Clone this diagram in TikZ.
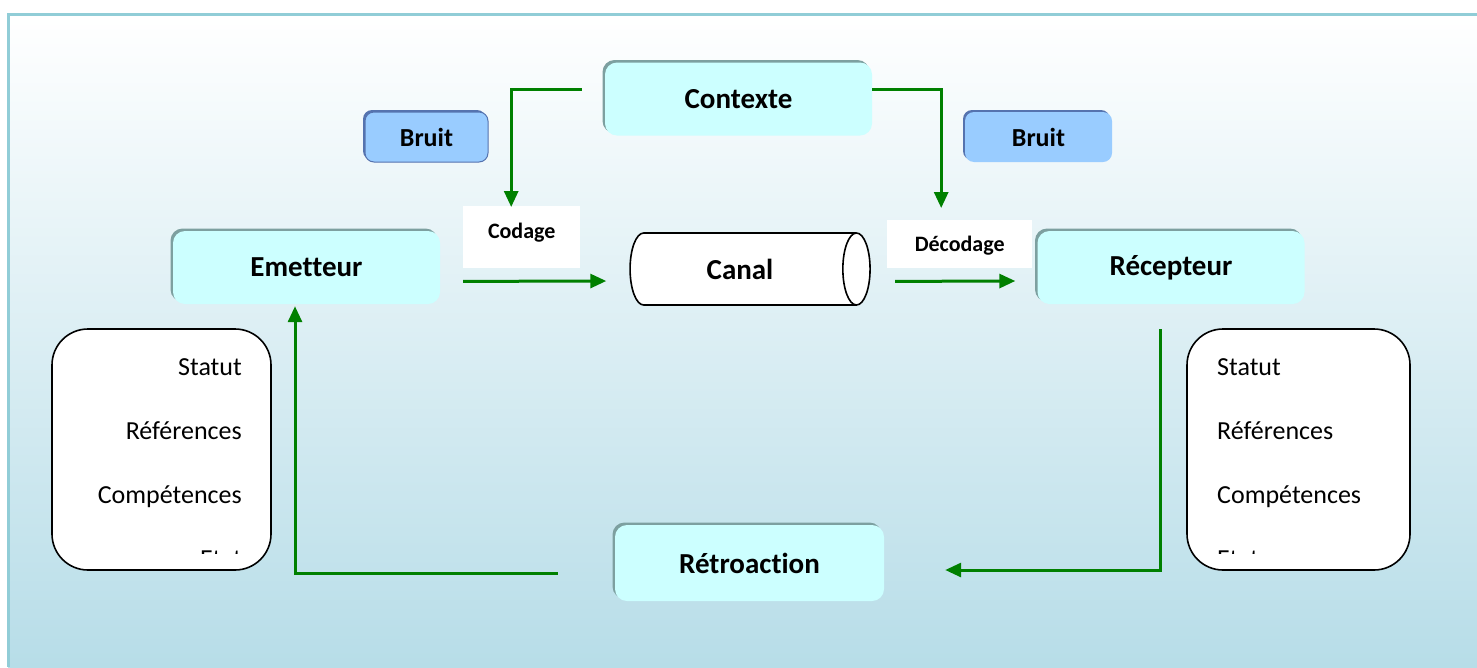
\documentclass[tikz,border=0pt]{standalone}
\usepackage{fontspec}
\setmainfont{Carlito}[Ligatures={NoCommon}]
\usetikzlibrary{arrows.meta,shapes.geometric}

\definecolor{boxcyan}{RGB}{204,255,255}
\definecolor{boxedge}{RGB}{125,160,160}
\definecolor{bruitblue}{RGB}{153,204,255}
\definecolor{bruitedge}{RGB}{85,115,175}
\definecolor{flowgreen}{RGB}{0,128,0}
\definecolor{framecol}{RGB}{145,205,215}
\definecolor{bgblue}{RGB}{183,221,232}

\tikzset{
  mainbox/.style={rounded corners=12pt, fill=boxcyan, minimum width=267pt, minimum height=73pt,
    font=\fontsize{29}{34}\selectfont\bfseries,
    preaction={fill=boxedge, transform canvas={xshift=-2.5pt,yshift=2.5pt}}},
  bruitbox/.style={rounded corners=9pt, fill=bruitblue, minimum height=50pt,
    font=\fontsize{26}{30}\selectfont\bfseries,
    preaction={fill=bruitedge, transform canvas={xshift=-2pt,yshift=2pt}}},
  codebox/.style={fill=white, inner sep=0pt, font=\fontsize{22}{26}\selectfont\bfseries},
  listbox/.style={draw, line width=1.6pt, fill=white, rounded corners=36pt},
  listtext/.style={font=\fontsize{26}{30}\selectfont, inner sep=0pt},
  flow/.style={draw=flowgreen, line width=3pt, -{Triangle[length=16pt,width=14pt]}}
}

\begin{document}
\begin{tikzpicture}[x=1pt,y=-1pt]
\useasboundingbox (0,0) rectangle (1477,667);
% fond et cadre
\shade[top color=white, bottom color=bgblue] (8,15) rectangle (1477,667);
\draw[framecol, line width=3pt] (1477,14.5) -- (8,14.5) -- (8,667);

% boites
\node[mainbox] (contexte) at (738.5,99) {Contexte};
\node[mainbox] (emetteur) at (306.5,267.5) {Emetteur};
\node[mainbox] (recepteur) at (1171,267.5) {Récepteur};
\node[mainbox, minimum width=269pt, minimum height=76pt] (retroaction) at (749.5,563) {Rétroaction};
\node[bruitbox, minimum width=123pt, draw=bruitedge, line width=1pt] (bruitg) at (426.5,137) {Bruit};
\node[bruitbox, minimum width=147pt] (bruitd) at (1038.5,137) {Bruit};
\node[draw, line width=1.6pt, fill=white, cylinder, shape aspect=1, minimum width=72pt, minimum height=240pt,
  font=\fontsize{29}{34}\selectfont\bfseries] (canal) at (740,269) {Canal};
\node[codebox, anchor=north west, minimum width=117pt, text height=32pt, text depth=30pt] (codage) at (463,206) {Codage};
\node[codebox, anchor=north west, minimum width=145pt, text height=31pt, text depth=17pt] (decodage) at (887,220) {Décodage};

% listes
\node[listbox, minimum width=219pt, minimum height=241pt] (emlist) at (161.5,449.5) {};
\node[listbox, minimum width=223pt, minimum height=241pt] (relist) at (1298.5,449.5) {};
\begin{scope}
\clip ([yshift=17pt]emlist.south west) rectangle (emlist.north east);
\node[listtext, anchor=base east] (emstatut) at (242,375) {Statut};
\node[listtext, anchor=base east] (emref) at (242,439) {Références};
\node[listtext, anchor=base east] (emcomp) at (242,503) {Compétences};
\node[listtext, anchor=base east] (emetat) at (242,567) {Etat};
\end{scope}
\begin{scope}
\clip ([yshift=17pt]relist.south west) rectangle (relist.north east);
\node[listtext, anchor=base west] (restatut) at (1217,375) {Statut};
\node[listtext, anchor=base west] (reref) at (1217,439) {Références};
\node[listtext, anchor=base west] (recomp) at (1217,503) {Compétences};
\node[listtext, anchor=base west] (reetat) at (1217,567) {Etat};
\end{scope}

% fleches
\draw[flow] ([xshift=-23pt,yshift=10pt]contexte.west) -| ([xshift=-10.5pt,yshift=-1pt]codage.north);
\draw[flow] ([yshift=10pt]contexte.east) -| ([xshift=-18.5pt,yshift=12pt]decodage.north);
\draw[flow] ([yshift=-13pt]codage.south west) -- ([xshift=-23pt,yshift=-12pt]canal.west);
\draw[flow] ([xshift=8pt,yshift=-13pt]decodage.south west) -- ([xshift=-22pt,yshift=-13.5pt]recepteur.west);
\draw[flow] ([xshift=-11pt,yshift=-25pt]recepteur.south) |- ([xshift=61pt,yshift=-7pt]retroaction.east);
\draw[flow] ([xshift=-57pt,yshift=-10pt]retroaction.west) -| ([xshift=-11.5pt,yshift=-2pt]emetteur.south);
\end{tikzpicture}
\end{document}
